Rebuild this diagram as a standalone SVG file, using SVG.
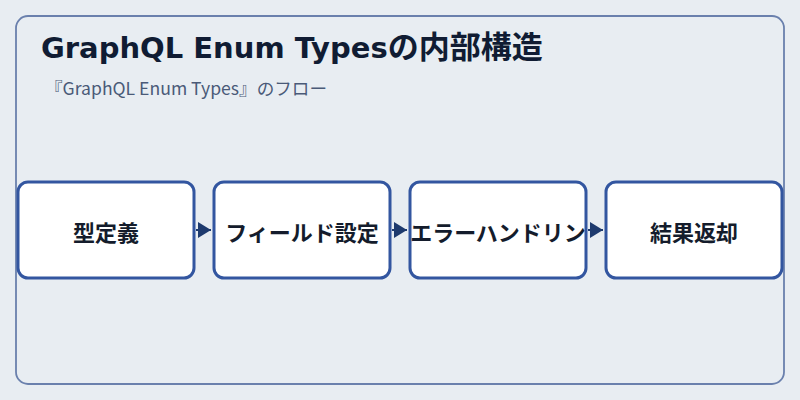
<svg xmlns="http://www.w3.org/2000/svg" width="800" height="400" viewBox="0 0 800 400">
  <style>
    .frame { fill: #e8edf2; stroke: #6a80ad; stroke-width: 1.8; }
    .title { font-family: "DejaVu Sans", "Noto Sans CJK JP", sans-serif; font-weight: bold; font-size: 29px; fill: #101c33; }
    .title .cjk { font-family: "Noto Sans CJK JP", sans-serif; font-size: 31px; }
    .subtitle { font-family: "Noto Sans CJK JP", sans-serif; font-size: 17.6px; fill: #4a5a78; }
    .node rect { fill: #ffffff; stroke: #3356a0; stroke-width: 3; }
    .node text { font-family: "Noto Sans CJK JP", sans-serif; font-weight: bold; font-size: 22px; fill: #141c2c; text-anchor: middle; dominant-baseline: central; }
    .conn { stroke: #1e3a6e; stroke-width: 2; fill: none; }
  </style>
  <defs>
    <marker id="arrow" markerUnits="userSpaceOnUse" markerWidth="13" markerHeight="16" viewBox="0 0 13 16" refX="13" refY="8" orient="auto">
      <path d="M0,0 L13,8 L0,16 Z" fill="#1e3a6e"/>
    </marker>
  </defs>
  <rect x="0" y="0" width="800" height="400" fill="#e8edf2"/>
  <rect class="frame" x="16" y="16" width="768" height="368" rx="12"/>
  <text class="title" x="41" y="58">GraphQL Enum Types<tspan class="cjk">の内部構造</tspan></text>
  <text class="subtitle" x="45" y="95">『GraphQL Enum Types』のフロー</text>
  <g id="connectors">
    <line class="conn" x1="196" y1="230" x2="211" y2="230" marker-end="url(#arrow)"/>
    <line class="conn" x1="392" y1="230" x2="407" y2="230" marker-end="url(#arrow)"/>
    <line class="conn" x1="588" y1="230" x2="603" y2="230" marker-end="url(#arrow)"/>
  </g>
  <g id="node1" class="node">
    <rect x="18" y="182" width="176" height="96" rx="10"/>
    <text x="106" y="231">型定義</text>
  </g>
  <g id="node2" class="node">
    <rect x="214" y="182" width="176" height="96" rx="10"/>
    <text x="302" y="231">フィールド設定</text>
  </g>
  <g id="node3" class="node">
    <rect x="410" y="182" width="176" height="96" rx="10"/>
    <text x="498" y="231">エラーハンドリン</text>
  </g>
  <g id="node4" class="node">
    <rect x="606" y="182" width="176" height="96" rx="10"/>
    <text x="694" y="231">結果返却</text>
  </g>
</svg>
